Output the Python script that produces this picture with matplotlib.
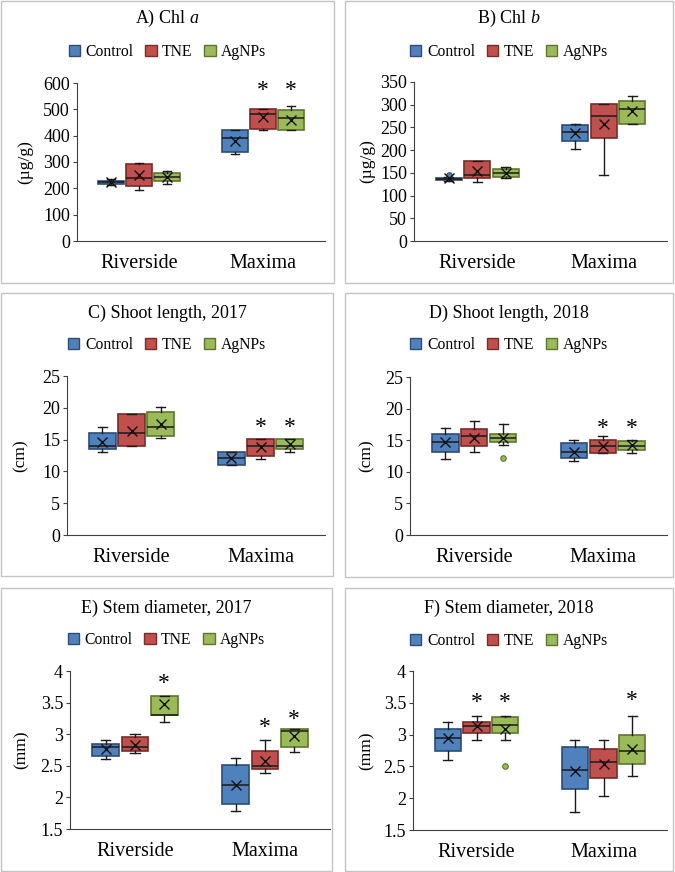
import matplotlib.pyplot as plt
import numpy as np
from matplotlib.patches import Rectangle, Patch
from matplotlib.ticker import FuncFormatter

plt.rcParams['font.family'] = 'Liberation Serif'
plt.rcParams['mathtext.fontset'] = 'custom'
plt.rcParams['mathtext.rm'] = 'Liberation Serif'
plt.rcParams['mathtext.it'] = 'Liberation Serif:italic'

W, H = 675, 872
dpi = 100

sites = ['Riverside', 'Maxima']
treatments = ['Control', 'TNE', 'AgNPs']
face_colors = ['#4f81bd', '#c0504d', '#9bbb59']
edge_colors = ['#2c4d75', '#772c2a', '#5f7530']

# rows: Control R, TNE R, AgNPs R, Control M, TNE M, AgNPs M
# columns: whislo, q1, median, q3, whishi, mean
chla_stats = [[212, 217, 223, 229, 234, 224],
              [193, 208, 240, 293, 296, 250],
              [217, 227, 242, 258, 267, 243],
              [332, 337, 393, 421, 421, 381],
              [421, 425, 482, 502, 502, 470],
              [421, 421, 467, 496, 511, 461]]
chla_fliers = {}
chla_stars = {4: 570, 5: 570}

chlb_stats = [[133, 135, 137, 139, 140, 138],
              [129, 139, 146, 175, 175, 153],
              [139, 141.5, 149.5, 159, 163, 149.5],
              [203.5, 221, 240.7, 255, 258, 237],
              [146, 226, 275, 301, 301, 257.5],
              [257.5, 257.5, 289.6, 309, 318.7, 286.6]]
chlb_fliers = {0: [145]}
chlb_stars = {}

shoot17_stats = [[13.0, 13.5, 14.0, 16.0, 17.0, 14.7],
                 [14.0, 14.0, 16.0, 19.0, 19.0, 16.35],
                 [15.2, 15.5, 17.0, 19.4, 20.1, 17.4],
                 [11.0, 11.0, 12.1, 13.0, 13.0, 12.1],
                 [12.0, 12.5, 14.0, 15.1, 15.1, 13.8],
                 [13.0, 13.5, 14.0, 15.1, 15.1, 14.3]]
shoot17_fliers = {}
shoot17_stars = {4: 16.9, 5: 16.9}

shoot18_stats = [[12.0, 13.1, 14.75, 16.0, 17.0, 14.75],
                 [13.1, 14.1, 15.6, 16.75, 18.1, 15.3],
                 [14.2, 14.65, 15.3, 16.0, 17.6, 15.3],
                 [11.65, 12.2, 13.1, 14.55, 15.05, 13.2],
                 [13.0, 13.0, 14.1, 15.1, 15.6, 14.1],
                 [13.0, 13.45, 14.1, 14.95, 15.1, 14.2]]
shoot18_fliers = {2: [12.2]}
shoot18_stars = {4: 16.9, 5: 16.9}

stem17_stats = [[2.6, 2.66, 2.8, 2.85, 2.91, 2.76],
                [2.7, 2.74, 2.8, 2.95, 3.0, 2.83],
                [3.2, 3.3, 3.3, 3.61, 3.61, 3.48],
                [1.79, 1.9, 2.2, 2.51, 2.62, 2.2],
                [2.39, 2.45, 2.49, 2.74, 2.91, 2.57],
                [2.72, 2.8, 3.05, 3.09, 3.09, 2.97]]
stem17_fliers = {}
stem17_stars = {2: 3.8, 4: 3.1, 5: 3.24}

stem18_stats = [[2.6, 2.74, 2.95, 3.09, 3.2, 2.95],
                [2.91, 3.03, 3.14, 3.2, 3.3, 3.14],
                [2.91, 3.03, 3.15, 3.28, 3.3, 3.09],
                [1.78, 2.14, 2.45, 2.8, 2.91, 2.43],
                [2.04, 2.32, 2.57, 2.78, 2.91, 2.53],
                [2.35, 2.53, 2.74, 3.0, 3.3, 2.78]]
stem18_fliers = {2: [2.5]}
stem18_stars = {1: 3.5, 2: 3.5, 5: 3.53}

# (title, ylabel, stats, fliers, stars, yticks, frame px, axes px, title y, legend y, ylabel x)
panels = [
    ('A) Chl $a$', '(\u00b5g/g)', chla_stats, chla_fliers, chla_stars, np.arange(0, 601, 100),
     (1, 1, 334, 283), (77, 83, 325, 241), 18, 52, -0.178),
    ('B) Chl $b$', '(\u00b5g/g)', chlb_stats, chlb_fliers, chlb_stars, np.arange(0, 351, 50),
     (345, 1, 673, 283), (414, 82, 667, 241), 18, 52, -0.155),
    ('C) Shoot length, 2017', '(cm)', shoot17_stats, shoot17_fliers, shoot17_stars, np.arange(0, 26, 5),
     (1, 293, 333, 576), (67, 376, 325, 535), 313, 345, -0.15),
    ('D) Shoot length, 2018', '(cm)', shoot18_stats, shoot18_fliers, shoot18_stars, np.arange(0, 26, 5),
     (345, 293, 673, 577), (410, 377, 667, 535), 313, 345, -0.137),
    ('E) Stem diameter, 2017', '(mm)', stem17_stats, stem17_fliers, stem17_stars, np.arange(1.5, 4.01, 0.5),
     (1, 588, 332, 871), (70, 671, 330, 829), 608, 640, -0.155),
    ('F) Stem diameter, 2018', '(mm)', stem18_stats, stem18_fliers, stem18_stars, np.arange(1.5, 4.01, 0.5),
     (345, 588, 673, 871), (413, 671, 667, 830), 608, 641, -0.15),
]

offsets = [-0.225, 0.0, 0.225]
box_width = 0.205

fig = plt.figure(figsize=(W / dpi, H / dpi), dpi=dpi)

for (title, ylabel, stats, fliers, stars, yticks, frame, box, ty, ly, ylx) in panels:
    fx0, fy0, fx1, fy1 = frame
    fig.add_artist(Rectangle((fx0 / W, 1 - fy1 / H), (fx1 - fx0) / W, (fy1 - fy0) / H,
                             transform=fig.transFigure, fill=False, edgecolor='#c4c4c4', linewidth=1))
    x0, y0, x1, y1 = box
    ax = fig.add_axes([x0 / W, 1 - y1 / H, (x1 - x0) / W, (y1 - y0) / H])
    cx = (fx0 + fx1) / 2 / W
    fig.text(cx, 1 - ty / H, title, ha='center', va='center', fontsize=13)
    handles = [Patch(facecolor=face_colors[k], edgecolor=edge_colors[k], label=treatments[k]) for k in range(3)]
    fig.legend(handles=handles, loc='center', bbox_to_anchor=(cx, 1 - ly / H), ncol=3, frameon=False,
               fontsize=11.3, handlelength=0.72, handleheight=0.62, handletextpad=0.35, columnspacing=0.75,
               borderpad=0)

    for k in range(3):
        bstats = []
        pos = []
        for g in range(2):
            i = g * 3 + k
            lo, q1, med, q3, hi, mean = stats[i]
            bstats.append(dict(whislo=lo, q1=q1, med=med, q3=q3, whishi=hi, mean=mean,
                               fliers=np.array(fliers.get(i, []))))
            pos.append(g + 0.5 + offsets[k])
        ax.bxp(bstats, positions=pos, widths=box_width, capwidths=0.07, showmeans=True,
               patch_artist=True,
               boxprops=dict(facecolor=face_colors[k], edgecolor=edge_colors[k], linewidth=1.2),
               medianprops=dict(color='#1a1a1a', linewidth=1.1),
               whiskerprops=dict(color='#1a1a1a', linewidth=1.0),
               capprops=dict(color='#1a1a1a', linewidth=1.0),
               meanprops=dict(marker='x', markersize=7, markeredgecolor='#111111', markeredgewidth=1.0),
               flierprops=dict(marker='o', markersize=4, markerfacecolor=face_colors[k],
                               markeredgecolor=edge_colors[k], markeredgewidth=0.8))

    for i, yv in stars.items():
        g, k = divmod(i, 3)
        ax.text(g + 0.5 + offsets[k], yv, '*', ha='center', va='center', fontsize=17)

    ax.set_xlim(0, 2)
    ax.set_ylim(yticks[0], yticks[-1])
    ax.set_yticks(yticks)
    ax.yaxis.set_major_formatter(FuncFormatter(lambda v, p: '%g' % v))
    ax.set_xticks([0.5, 1.5])
    ax.set_xticklabels(sites, fontsize=14.5)
    ax.tick_params(axis='x', length=0, pad=9)
    ax.tick_params(axis='y', direction='out', length=3, labelsize=13, pad=2, color='#404040')
    ax.spines['top'].set_visible(False)
    ax.spines['right'].set_visible(False)
    ax.spines['left'].set_color('#404040')
    ax.spines['bottom'].set_color('#404040')
    ax.set_ylabel(ylabel, fontsize=12.5)
    ax.yaxis.set_label_coords(ylx, 0.5)

fig.savefig('out.png', dpi=dpi)
